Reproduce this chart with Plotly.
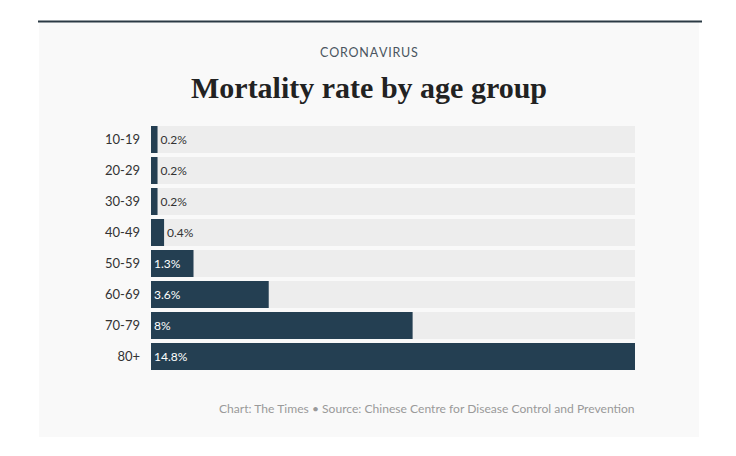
import plotly.graph_objects as go

ages = ["10-19", "20-29", "30-39", "40-49", "50-59", "60-69", "70-79", "80+"]
rates = [0.2, 0.2, 0.2, 0.4, 1.3, 3.6, 8, 14.8]
labels = ["0.2%", "0.2%", "0.2%", "0.4%", "1.3%", "3.6%", "8%", "14.8%"]

# the page body has an 8px margin, so the figure is drawn from (8, 8)
OFF = 8
W, H = 736 - 2 * OFF, 456 - 2 * OFF
# plot area on the page: x 151..635, y 124..372
L, R, T, B = 151 - OFF, 736 - 635 - OFF, 124 - OFF, 456 - 372 - OFF
NAVY = "#243f52"
SANS = "Lato, 'Open Sans', sans-serif"


def px(x):  # page pixel -> paper x
    return (x - OFF - L) / (W - L - R)


def py(y):  # page pixel -> paper y
    return (H - B - (y - OFF)) / (H - T - B)


xmax = max(rates)
inside = [r >= 1 for r in rates]

fig = go.Figure()
# grey track behind every row
fig.add_trace(go.Bar(y=ages, x=[xmax] * len(ages), orientation="h",
                     marker=dict(color="#ededed", line_width=0),
                     hoverinfo="skip", showlegend=False))
fig.add_trace(go.Bar(
    y=ages, x=rates, orientation="h",
    marker=dict(color=NAVY, line_width=0),
    text=labels,
    textposition=["inside" if i else "outside" for i in inside],
    insidetextanchor="start",
    textfont=dict(family=SANS, size=12,
                  color=["white" if i else "#333333" for i in inside]),
    cliponaxis=False, showlegend=False))

fig.update_layout(
    width=W, height=H, barmode="overlay", bargap=0.13,
    margin=dict(l=L, r=R, t=T, b=B),
    paper_bgcolor="white", plot_bgcolor="rgba(0,0,0,0)",
    font=dict(family=SANS, color="#333333"),
    uniformtext=dict(minsize=11, mode="show"),
    xaxis=dict(range=[0, xmax], visible=False, fixedrange=True),
    yaxis=dict(autorange="reversed", showgrid=False, zeroline=False,
               showline=False, ticks="", ticklabelstandoff=10,
               tickfont=dict(family=SANS, size=13, color="#333333")),
    shapes=[
        dict(type="rect", xref="paper", yref="paper", layer="below",
             x0=px(39), x1=px(699), y0=py(22), y1=py(437),
             fillcolor="#f9f9f9", line_width=0),
        dict(type="line", xref="paper", yref="paper",
             x0=px(38), x1=px(702), y0=py(21.5), y1=py(21.5),
             line=dict(color="#2b3a44", width=2)),
    ],
    annotations=[
        dict(text="C O R O N A V I R U S".replace(" ", "\u200a"),
             xref="paper", yref="paper",
             x=px(369), y=py(52), yanchor="middle", showarrow=False,
             font=dict(family=SANS, size=12.5, color="#4a5560")),
        dict(text="<b>Mortality rate by age group</b>", xref="paper", yref="paper",
             x=px(369), y=py(88), yanchor="middle", showarrow=False,
             font=dict(family="'Liberation Serif', 'DejaVu Serif', serif",
                       size=30, color="#222222")),
        dict(text="Chart: The Times \u2022 Source: Chinese Centre for Disease Control and Prevention",
             xref="paper", yref="paper", x=px(637), y=py(408), xanchor="right",
             yanchor="middle", showarrow=False,
             font=dict(family=SANS, size=12.1, color="#9a9a9a")),
    ],
)

fig.write_html("out.html")
